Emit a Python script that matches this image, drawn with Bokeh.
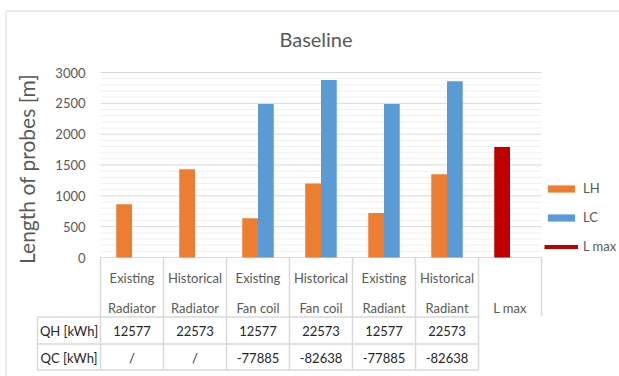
import math
from bokeh.plotting import figure
from bokeh.models import ColumnDataSource, Range1d, Legend, LegendItem
from bokeh.embed import file_html
from bokeh.resources import INLINE
from bokeh.core.properties import value

# ---------------- data ----------------
categories = ["Existing Radiator", "Historical Radiator", "Existing Fan coil",
              "Historical Fan coil", "Existing Radiant", "Historical Radiant", "L max"]
label_line1 = ["Existing", "Historical", "Existing", "Historical", "Existing", "Historical", ""]
label_line2 = ["Radiator", "Radiator", "Fan coil", "Fan coil", "Radiant", "Radiant", "L max"]
lh_values = [865, 1430, 635, 1200, 720, 1350, None]
lc_values = [None, None, 2490, 2880, 2490, 2860, None]
lmax_values = [None, None, None, None, None, None, 1790]
row_labels = ["QH [kWh]", "QC [kWh]"]
qh_row = ["12577", "22573", "12577", "22573", "12577", "22573"]
qc_row = ["/", "/", "-77885", "-82638", "-77885", "-82638"]
y_ticks = [0, 500, 1000, 1500, 2000, 2500, 3000]
y_minor = [v for v in range(0, 3001, 100) if v % 500]
title_text = "Baseline"
y_title = "Length of probes [m]"

FONT = "Lato"
GREY = "#595959"
DARK = "#262626"
BORDER = "#D9D9D9"
ORANGE = "#ED7D31"
BLUE = "#5B9BD5"
RED = "#C00000"

# ---------------- layout geometry (pixels) ----------------
W, H = 619, 376
PX_L, PX_R = 100, 541          # plot area left / right
PX_TOP, PX_ZERO = 72, 257      # y of 3000 and of 0
ncat = len(categories)
unit = (PX_R - PX_L) / ncat
k = (y_ticks[-1] - y_ticks[0]) / (PX_ZERO - PX_TOP)

p = figure(width=W, height=H, x_range=Range1d(0, W), y_range=Range1d(H, 0),
           output_backend="svg", toolbar_location=None,
           min_border_left=0, min_border_right=0, min_border_top=0, min_border_bottom=0,
           x_axis_location=None, y_axis_location=None)
p.outline_line_color = None
p.grid.visible = False
p.extra_x_ranges = {"cat": Range1d(-PX_L / unit, ncat + (W - PX_R) / unit)}
p.extra_y_ranges = {"val": Range1d(-(H - PX_ZERO) * k, y_ticks[-1] + PX_TOP * k)}

# outer chart border
p.segment(x0=[5.5, 5.5], y0=[10.5, 10.5], x1=[W, 5.5], y1=[10.5, H],
          line_color=BORDER, line_width=1)

# gridlines (value scale)
p.segment(x0=[0] * len(y_minor), x1=[ncat] * len(y_minor), y0=y_minor, y1=y_minor,
          x_range_name="cat", y_range_name="val", line_color="#F0F0F0", line_width=1)
p.segment(x0=[0] * len(y_ticks), x1=[ncat] * len(y_ticks), y0=y_ticks, y1=y_ticks,
          x_range_name="cat", y_range_name="val", line_color=BORDER, line_width=1)

# tick labels
p.text(x=[PX_L - 15] * len(y_ticks), y=y_ticks, text=[str(v) for v in y_ticks],
       y_range_name="val", text_align="right", text_baseline="middle",
       text_font=value(FONT), text_font_size="13px", text_color=GREY)

# title and axis title
p.text(x=[(PX_L + PX_R) / 2 - 5], y=[38], text=[title_text], text_align="center",
       text_baseline="middle", text_font=value(FONT), text_font_size="20px", text_color=GREY)
p.text(x=[26], y=[(PX_TOP + PX_ZERO) / 2 + 4], text=[y_title], angle=math.pi / 2,
       text_align="center", text_baseline="middle", text_font=value(FONT),
       text_font_size="21px", text_color=GREY)


def series_source(vals, offset):
    xs = [i + 0.5 + offset for i, v in enumerate(vals) if v is not None]
    tops = [v for v in vals if v is not None]
    return ColumnDataSource(dict(x=xs, top=tops))


bw = 0.25
r_lh = p.vbar(x="x", top="top", bottom=0, width=bw, source=series_source(lh_values, -bw / 2),
              x_range_name="cat", y_range_name="val", fill_color=ORANGE, line_color=None)
r_lc = p.vbar(x="x", top="top", bottom=0, width=bw, source=series_source(lc_values, bw / 2),
              x_range_name="cat", y_range_name="val", fill_color=BLUE, line_color=None)
r_lm = p.vbar(x="x", top="top", bottom=0, width=bw, source=series_source(lmax_values, -bw / 2),
              x_range_name="cat", y_range_name="val", fill_color=RED, line_color=None)
# legend-only line swatch for "L max" (drawn off-canvas)
r_lm_leg = p.line(x=[-20, -10], y=[-20, -20], line_color=RED, line_width=4)

legend = Legend(items=[LegendItem(label="LH", renderers=[r_lh]),
                       LegendItem(label="LC", renderers=[r_lc]),
                       LegendItem(label="L max", renderers=[r_lm_leg])],
                location=(544, H - 254), orientation="vertical",
                glyph_width=34, glyph_height=9, label_height=16, spacing=13,
                padding=0, margin=0, label_standoff=5,
                border_line_color=None, background_fill_alpha=0,
                label_text_font=FONT, label_text_font_size="13px",
                label_text_color=GREY)
p.add_layout(legend)

# ---------------- data table ----------------
hdr = 63 / unit
row_top, row_mid, row_bot = 316.5, 343.5, 369.5
vx, vy0, vy1 = [], [], []
for i in range(ncat + 1):
    vx.append(i)
    vy0.append(PX_ZERO)
    vy1.append(row_bot if i <= ncat - 1 else row_top - 1)
vx.append(-hdr); vy0.append(row_top); vy1.append(row_bot)
p.segment(x0=vx, y0=vy0, x1=vx, y1=vy1, x_range_name="cat", line_color=BORDER, line_width=1.5)
hy = [row_top, row_mid, row_bot]
p.segment(x0=[-hdr] * 3, y0=hy, x1=[ncat - 1] * 3, y1=hy, x_range_name="cat",
          line_color=BORDER, line_width=1.5)

centers = [i + 0.5 for i in range(ncat)]
txt_kw = dict(x_range_name="cat", text_align="center", text_baseline="middle",
              text_font=value(FONT), text_font_size="13px")
p.text(x=centers, y=[277] * ncat, text=label_line1, text_color=GREY, **txt_kw)
p.text(x=centers, y=[307] * ncat, text=label_line2, text_color=GREY, **txt_kw)
nq = len(qh_row)
p.text(x=centers[:nq], y=[330.5] * nq, text=qh_row, text_color=DARK, **txt_kw)
p.text(x=centers[:nq], y=[357] * nq, text=qc_row, text_color=DARK, **txt_kw)
p.text(x=[-hdr / 2] * 2, y=[330.5, 357], text=row_labels, text_color=DARK, **txt_kw)

open("out.html", "w").write(file_html(p, INLINE))
